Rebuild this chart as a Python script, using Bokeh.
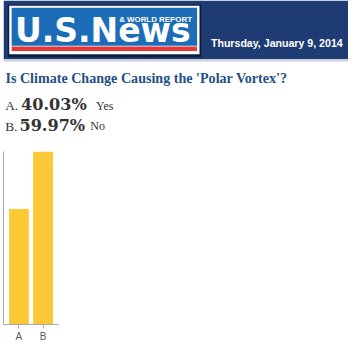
from bokeh.plotting import figure
from bokeh.layouts import column
from bokeh.models import Range1d, FactorRange, FixedTicker
from bokeh.core.properties import value
from bokeh.embed import file_html
from bokeh.resources import INLINE

# ---- data ----
categories = ["A", "B"]
answers = ["Yes", "No"]
shares = [40.03, 59.97]
question = "Is Climate Change Causing the 'Polar Vortex'?"
date_text = "Thursday, January 9, 2014"
brand = "U.S.News"
brand_tag = "& WORLD REPORT"

S = 348 / 364  # scale from reference pixels to screen pixels
DESCENT = {"DejaVu Sans": 0.236, "DejaVu Serif": 0.236, "Liberation Sans": 0.212, "Liberation Serif": 0.216}


def px(v):
    return f"{v * S:.1f}px"


# ---- header (banner, question, answers) in reference pixel space ----
header = figure(frame_width=348, frame_height=143, x_range=Range1d(0, 364), y_range=Range1d(150, 0),
                x_axis_type=None, y_axis_type=None, min_border=0,
                outline_line_color=None, output_backend="svg", toolbar_location=None)
header.xgrid.visible = False
header.ygrid.visible = False


def label(xs, baselines, texts, font, size, color, bold=False):
    # "bottom" anchoring: shift from the wanted baseline by the font's descent
    ys = [b + DESCENT[font] * size for b in baselines]
    header.text(x=xs, y=ys, text=texts, text_font=value(font),
                text_font_style="bold" if bold else "normal",
                text_font_size=px(size), text_color=color, text_baseline="bottom")


# banner background with fine diagonal stripes
header.quad(left=[0], right=[364], top=[0], bottom=[61.5], fill_color="#17346e", line_color=None,
            hatch_pattern="/", hatch_color="#ffffff", hatch_alpha=0.07, hatch_scale=4, hatch_weight=1)
header.quad(left=[0], right=[364], top=[61.5], bottom=[64], fill_color="#c9d0dc", line_color=None)

# logo
header.quad(left=[4.5], right=[207], top=[4.5], bottom=[59.5], fill_color="#0a1733", fill_alpha=0.8, line_color=None)
header.quad(left=[6], right=[205], top=[5.5], bottom=[56.5], fill_color="#ffffff", line_color=None)
header.quad(left=[8.5], right=[202.5], top=[7.5], bottom=[47.5], fill_color="#1d6cb7", line_color=None)
header.quad(left=[8.5], right=[202.5], top=[48.3], bottom=[53], fill_color="#e23a3a", line_color=None)
label([12], [43.5], [brand], "DejaVu Sans", 34.5, "#ffffff", bold=True)
label([121], [23.0], [brand_tag], "Liberation Sans", 8.3, "#ffffff", bold=True)

# date
label([217], [48.3], [date_text], "Liberation Sans", 11.1, "#ffffff", bold=True)

# question
label([2], [86], [question], "Liberation Serif", 14.7, "#1f4f86", bold=True)

# answers
row_y = [114.8, 136.8]
label([1.7, 1.7], row_y, [c + "." for c in categories], "Liberation Serif", 14, "#333333")
label([18.3, 16.7], row_y, [f"{v:.2f}%" for v in shares], "DejaVu Serif", 16.8, "#333333", bold=True)
label([96.7, 90.7], row_y, answers, "Liberation Serif", 12.5, "#333333")

# ---- bar chart ----
bars = figure(x_range=FactorRange(*categories, range_padding=0.14, range_padding_units="absolute"),
              y_range=Range1d(0, max(shares)),
              frame_width=55, frame_height=173, min_border_left=3, min_border_right=4,
              min_border_top=8, min_border_bottom=21,
              outline_line_color=None, output_backend="svg", toolbar_location=None)
bars.vbar(x=categories, top=shares, width=0.82, fill_color="#fcc935", line_color=None)
bars.xgrid.visible = False
bars.ygrid.visible = False

bars.yaxis.ticker = FixedTicker(ticks=[])
bars.yaxis.major_label_text_font_size = "0px"
bars.yaxis.major_tick_in = 0
bars.yaxis.major_tick_out = 0
bars.yaxis.minor_tick_line_color = None
bars.yaxis.major_label_standoff = 0
bars.yaxis.axis_line_color = "#aaaaaa"

bars.xaxis.axis_line_color = "#aaaaaa"
bars.xaxis.major_tick_line_color = "#aaaaaa"
bars.xaxis.major_tick_in = 0
bars.xaxis.major_tick_out = 4
bars.xaxis.major_label_standoff = 2
bars.xaxis.major_label_text_font = "Liberation Sans"
bars.xaxis.major_label_text_font_size = "10px"
bars.xaxis.major_label_text_color = "#5a5a5a"

layout = column(header, bars, spacing=0)

open("out.html", "w").write(file_html(layout, INLINE))
